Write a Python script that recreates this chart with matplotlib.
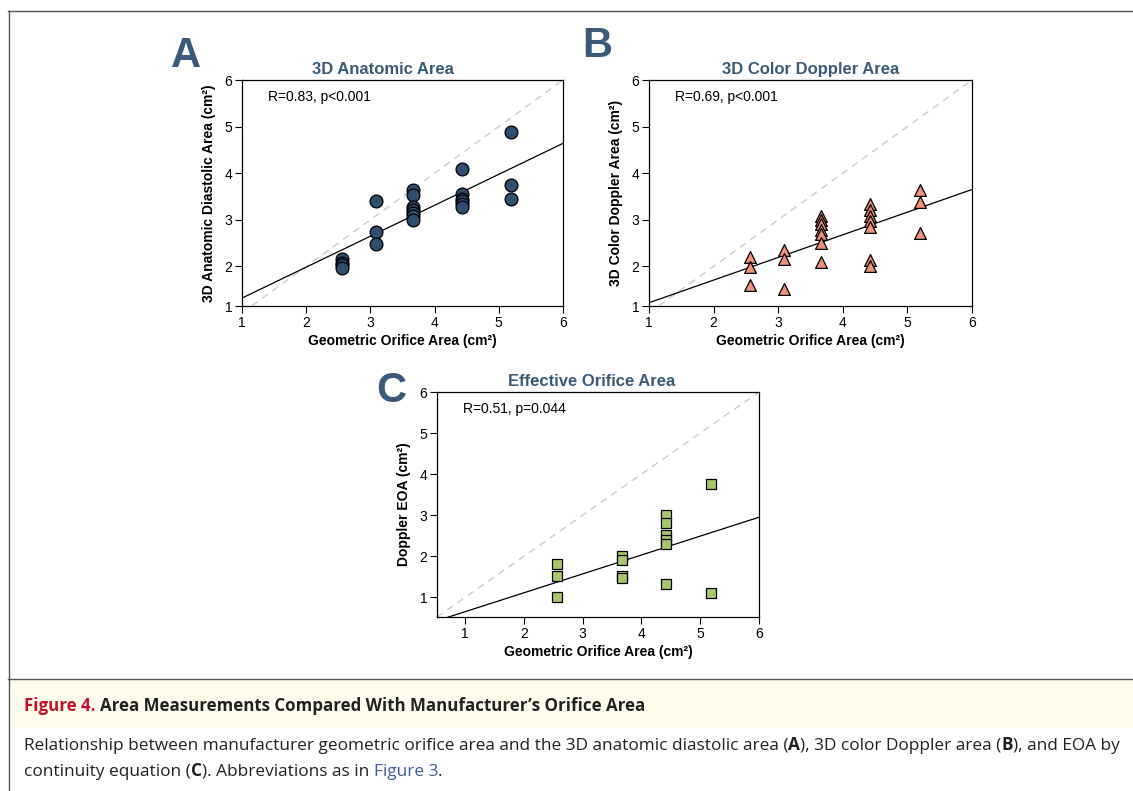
import matplotlib
matplotlib.use('Agg')
import matplotlib.pyplot as plt
from matplotlib.patches import Rectangle
from matplotlib.lines import Line2D

# data
geo_a = [2.56, 2.56, 2.56, 2.56, 3.09, 3.09, 3.09,
         3.66, 3.66, 3.66, 3.66, 3.66, 3.66, 3.66,
         4.42, 4.42, 4.42, 4.42, 4.42, 4.42, 5.19, 5.19, 5.19]
anatomic = [2.16, 2.08, 2.02, 1.97, 3.41, 2.74, 2.49,
            3.63, 3.53, 3.27, 3.22, 3.15, 3.08, 2.99,
            4.10, 3.56, 3.45, 3.41, 3.34, 3.27, 4.88, 3.74, 3.45]

geo_b = [2.56, 2.56, 2.56, 3.09, 3.09, 3.09,
         3.66, 3.66, 3.66, 3.66, 3.66, 3.66, 3.66,
         4.42, 4.42, 4.42, 4.42, 4.42, 4.42, 4.42, 5.19, 5.19, 5.19]
color_doppler = [2.21, 1.99, 1.61, 2.36, 2.16, 1.52,
                 3.09, 2.99, 2.90, 2.79, 2.69, 2.51, 2.09,
                 3.34, 3.21, 3.08, 2.97, 2.84, 2.13, 2.00, 3.63, 3.38, 2.72]

geo_c = [2.56, 2.56, 2.56, 3.66, 3.66, 3.66, 3.66,
         4.42, 4.42, 4.42, 4.42, 4.42, 4.42, 5.19, 5.19]
eoa = [1.80, 1.52, 1.01, 2.00, 1.90, 1.52, 1.46,
       3.00, 2.81, 2.51, 2.39, 2.29, 1.32, 3.77, 1.10]

# regression lines (intercept, slope)
fit_a = (0.656, 0.664)
fit_b = (0.734, 0.486)
fit_c = (0.19, 0.46)

stats = ['R=0.83, p<0.001', 'R=0.69, p<0.001', 'R=0.51, p=0.044']
titles = ['3D Anatomic Area', '3D Color Doppler Area', 'Effective Orifice Area']
ylabels = ['3D Anatomic Diastolic Area (cm²)', '3D Color Doppler Area (cm²)', 'Doppler EOA (cm²)']
xlabel = 'Geometric Orifice Area (cm²)'

title_col = '#3b5a78'
plt.rcParams['font.family'] = ['Liberation Sans', 'DejaVu Sans']

W, H = 1133, 791
fig = plt.figure(figsize=(W / 100, H / 100), dpi=100)


def px_axes(l, t, r, b):
    return fig.add_axes([l / W, 1 - b / H, (r - l) / W, (b - t) / H])


axA = px_axes(242, 80, 563, 306)
axB = px_axes(649, 80, 972, 306)
axC = px_axes(437, 392, 759, 617)

panels = [
    (axA, geo_a, anatomic, fit_a, 'o', '#2f4e6e', 85, (1, 6), (1.15, 6), 0.44),
    (axB, geo_b, color_doppler, fit_b, '^', '#f0917a', 72, (1, 6), (1.15, 6), 0.5),
    (axC, geo_c, eoa, fit_c, 's', '#a8c76a', 62, (0.52, 6), (0.52, 6), 0.48),
]

for i, (ax, x, y, fit, mk, col, sz, xl, yl, tx) in enumerate(panels):
    lo = min(xl[0], yl[0])
    ax.plot([lo, 6], [lo, 6], color='#c9c9d6', lw=1, dashes=(5, 4), zorder=1)
    ax.plot([xl[0], 6], [fit[0] + fit[1] * xl[0], fit[0] + fit[1] * 6],
            color='black', lw=0.9, zorder=2)
    ax.scatter(x, y, marker=mk, s=sz, facecolor=col, edgecolor='black',
               linewidth=0.9, zorder=3)
    ax.set_xlim(xl)
    ax.set_ylim(yl)
    ax.set_xticks([1, 2, 3, 4, 5, 6])
    if i < 2:
        # bottom tick is labelled 1 in the original, sitting on the spine
        ax.set_yticks([yl[0], 2, 3, 4, 5, 6])
        ax.set_yticklabels(['1', '2', '3', '4', '5', '6'])
    else:
        ax.set_yticks([1, 2, 3, 4, 5, 6])
    ax.tick_params(direction='out', length=5, width=0.8, labelsize=10, pad=2)
    for sp in ax.spines.values():
        sp.set_linewidth(0.9)
    ax.text(0.08, 0.925, stats[i], transform=ax.transAxes, fontsize=10,
            va='center', ha='left')
    ax.set_title(titles[i], fontsize=12, fontweight='bold', color=title_col, pad=4, x=tx)
    ax.set_ylabel(ylabels[i], fontsize=10, fontweight='bold')
    ax.set_xlabel(xlabel, fontsize=10, fontweight='bold')
    ax.yaxis.set_label_coords(-0.08, 0.5)
    ax.xaxis.set_label_coords(0.5, -0.125)

# panel letters
fig.text(186 / W, 1 - 56 / H, 'A', fontsize=30, fontweight='bold', color=title_col, ha='center', va='center')
fig.text(597 / W, 1 - 46 / H, 'B', fontsize=30, fontweight='bold', color=title_col, ha='center', va='center')
fig.text(391 / W, 1 - 391 / H, 'C', fontsize=30, fontweight='bold', color=title_col, ha='center', va='center')

# frame and caption box
fig.add_artist(Rectangle((8 / W, 1 - 728 / H), 1 - 8 / W, 49 / H, transform=fig.transFigure,
                         facecolor='#fefcec', edgecolor='none', zorder=0))
fig.add_artist(Line2D([8 / W, 1], [1 - 10.5 / H] * 2, transform=fig.transFigure, color='#555555', lw=1))
fig.add_artist(Line2D([8.5 / W] * 2, [0, 1 - 10.5 / H], transform=fig.transFigure, color='#555555', lw=1))
fig.add_artist(Line2D([8 / W, 1], [1 - 679 / H] * 2, transform=fig.transFigure, color='#555555', lw=1))

renderer = fig.canvas.get_renderer()


def put_runs(x, y, runs, size):
    for s, weight, color in runs:
        t = fig.text(x / W, 1 - y / H, s, fontsize=size, fontweight=weight, color=color,
                     family=['Open Sans', 'DejaVu Sans'], ha='left', va='baseline')
        x += t.get_window_extent(renderer).width


dark = '#222222'
put_runs(24, 711, [('Figure 4. ', 'bold', '#c8102e'),
                   ('Area Measurements Compared With Manufacturer’s Orifice Area', 'bold', dark)], 12.2)
put_runs(24, 750, [('Relationship between manufacturer geometric orifice area and the 3D anatomic diastolic area (', 'normal', dark),
                   ('A', 'bold', dark), ('), 3D color Doppler area (', 'normal', dark),
                   ('B', 'bold', dark), ('), and EOA by', 'normal', dark)], 12.4)
put_runs(24, 776, [('continuity equation (', 'normal', dark), ('C', 'bold', dark),
                   ('). Abbreviations as in ', 'normal', dark), ('Figure 3', 'normal', '#3d5fa0'),
                   ('.', 'normal', dark)], 12.4)

fig.savefig('out.png', dpi=100)
